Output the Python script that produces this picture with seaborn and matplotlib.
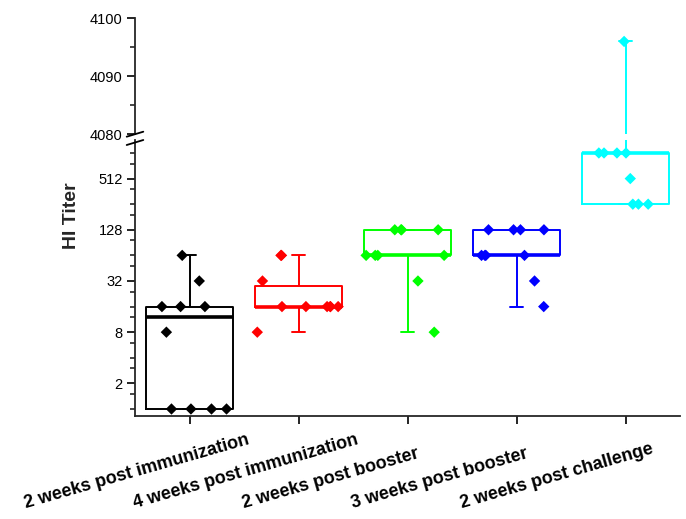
import numpy as np
import pandas as pd
import matplotlib
matplotlib.use("Agg")
import matplotlib.pyplot as plt
import matplotlib.transforms as mtrans
from matplotlib.lines import Line2D
from matplotlib.ticker import FixedLocator, FixedFormatter, NullFormatter, NullLocator
import seaborn as sns

# ---------------- data ----------------
categories = ["2 weeks post immunization", "4 weeks post immunization",
              "2 weeks post booster", "3 weeks post booster",
              "2 weeks post challenge"]
titer_2wk_imm = [1, 1, 1, 1, 8, 16, 16, 16, 32, 64]
titer_4wk_imm = [8, 16, 16, 16, 16, 16, 16, 32, 64, 64]
titer_2wk_boost = [8, 32, 64, 64, 64, 64, 128, 128, 128, 128]
titer_3wk_boost = [16, 32, 64, 64, 64, 64, 128, 128, 128, 128]
titer_2wk_chal = [256, 256, 256, 512, 1024, 1024, 1024, 1024, 4096]
colors = ["#000000", "#FF0000", "#00FF00", "#0000FF", "#00FFFF"]

low_major_ticks = [2, 8, 32, 128, 512]
low_minor_ticks = [1, 1.5, 3, 4, 6, 12, 16, 24, 48, 64, 96, 192, 256, 384, 768, 1024]
high_major_ticks = [4080, 4090, 4100]
high_minor_ticks = [4085, 4095]
y_label = "HI Titer"

series = [titer_2wk_imm, titer_4wk_imm, titer_2wk_boost, titer_3wk_boost, titer_2wk_chal]
df = pd.DataFrame({
    "group": np.repeat(categories, [len(s) for s in series]),
    "titer": np.concatenate([np.asarray(s, dtype=float) for s in series]),
})

# pick a jitter seed whose last draw (the single top point) lands near the centre
n_total = len(df)
seed = next(s for s in range(5000)
            if abs(np.random.RandomState(s).random_sample(n_total)[-1] - 0.5) < 0.02)

# ---------------- style ----------------
sns.set_style("ticks")
plt.rcParams["font.family"] = ["Liberation Sans", "DejaVu Sans"]

W, H = 686, 519
fig = plt.figure(figsize=(W / 100, H / 100), dpi=100)

x0, x1 = 135, 680
lo_top, lo_bot = 140, 416
hi_top, hi_bot = 18.3, 134
ax_lo = fig.add_axes([x0 / W, (H - lo_bot) / H, (x1 - x0) / W, (lo_bot - lo_top) / H])
ax_hi = fig.add_axes([x0 / W, (H - hi_bot) / H, (x1 - x0) / W, (hi_bot - hi_top) / H])

for ax in (ax_hi, ax_lo):
    sns.boxplot(data=df, x="group", y="titer", hue="group", order=categories,
                hue_order=categories, palette=colors, fill=False, width=0.8,
                whis=(0, 100), linewidth=1.4, showfliers=False,
                medianprops=dict(linewidth=2.6), capwidths=0.12,
                legend=False, ax=ax)
    np.random.seed(seed)
    sns.stripplot(data=df, x="group", y="titer", hue="group", order=categories,
                  hue_order=categories, palette=colors, jitter=0.38, marker="D",
                  size=5.8, linewidth=0, legend=False, ax=ax, zorder=3)
    ax.set_xlim(-0.5, 4.5)
    ax.set_xlabel("")
    ax.set_ylabel("")
    for s in ("top", "right"):
        ax.spines[s].set_visible(False)
    ax.spines["left"].set_linewidth(1.3)
    ax.spines["bottom"].set_linewidth(1.3)
    ax.tick_params(axis="both", which="major", direction="out", length=5.8,
                   width=1.2, labelsize=10.5, colors="black", pad=3)
    ax.tick_params(axis="y", which="minor", direction="out", length=3.6,
                   width=1.2)

# lower (log2) segment
ax_lo.set_yscale("log", base=2)
ax_lo.set_ylim(0.827, 1455)
ax_lo.yaxis.set_major_locator(FixedLocator(low_major_ticks))
ax_lo.yaxis.set_major_formatter(FixedFormatter([str(t) for t in low_major_ticks]))
ax_lo.yaxis.set_minor_locator(FixedLocator(low_minor_ticks))
ax_lo.yaxis.set_minor_formatter(NullFormatter())

# upper (linear) segment
ax_hi.set_ylim(4080, 4100)
ax_hi.yaxis.set_major_locator(FixedLocator(high_major_ticks))
ax_hi.yaxis.set_minor_locator(FixedLocator(high_minor_ticks))
ax_hi.spines["bottom"].set_visible(False)
ax_hi.xaxis.set_major_locator(NullLocator())
ax_hi.tick_params(axis="x", which="both", bottom=False, labelbottom=False)

# x tick labels
ax_lo.set_xticks(range(len(categories)))
ax_lo.set_xticklabels(categories, rotation=16, ha="left", va="baseline",
                      rotation_mode="anchor", fontsize=13, fontweight="bold")
offset = mtrans.ScaledTranslation(-1.64, -0.80, fig.dpi_scale_trans)
for lbl in ax_lo.get_xticklabels():
    lbl.set_transform(lbl.get_transform() + offset)

# y label
fig.text(71 / W, 1 - 216 / H, y_label, rotation=90, ha="center", va="center",
         fontsize=14, fontweight="bold")

# axis break marks
for ya, yb in [(136.7, 131.7), (145.0, 140.0)]:
    fig.add_artist(Line2D([126.7 / W, 143.3 / W], [1 - ya / H, 1 - yb / H],
                          color="black", lw=1.3, transform=fig.transFigure))

fig.savefig("out.png", dpi=100)
